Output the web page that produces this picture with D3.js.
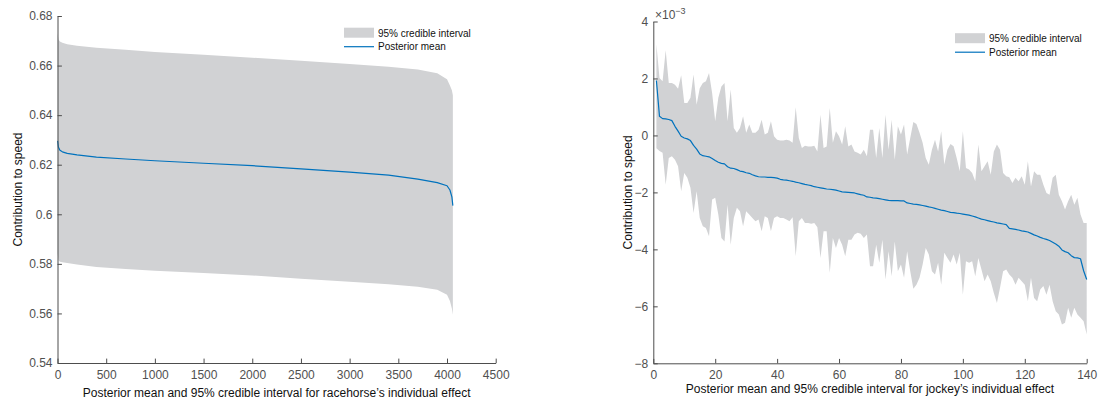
<!DOCTYPE html>
<html>
<head>
<meta charset="utf-8">
<script src="https://cdn.jsdelivr.net/npm/d3@7"></script>
<style>
  html, body { margin: 0; padding: 0; background: #fff; }
  svg { display: block; font-family: "Liberation Sans", Arial, Helvetica, sans-serif; }
</style>
</head>
<body>
<svg id="chart" width="1100" height="401"></svg>
<script>
const horseRank  = [1, 10, 25, 50, 100, 200, 400, 700, 1000, 1500, 2000, 2500, 3000, 3400, 3700, 3900, 4000, 4030, 4050, 4060];
const horseMean  = [0.6296, 0.6270, 0.6258, 0.6252, 0.6246, 0.6240, 0.6231, 0.6223, 0.6216, 0.6206, 0.6196, 0.6183, 0.6170, 0.6158, 0.6142, 0.6128, 0.6115, 0.6098, 0.6070, 0.6035];
const horseUpper = [0.6730, 0.6705, 0.6697, 0.6692, 0.6686, 0.6680, 0.6672, 0.6664, 0.6655, 0.6644, 0.6632, 0.6619, 0.6606, 0.6595, 0.6584, 0.6569, 0.6545, 0.6520, 0.6500, 0.6480];
const horseLower = [0.5843, 0.5815, 0.5809, 0.5806, 0.5803, 0.5797, 0.5787, 0.5779, 0.5772, 0.5763, 0.5753, 0.5740, 0.5728, 0.5718, 0.5708, 0.5696, 0.5675, 0.5650, 0.5620, 0.5595];
const horseXTicks = [0, 500, 1000, 1500, 2000, 2500, 3000, 3500, 4000, 4500];
const horseYTicks = [0.54, 0.56, 0.58, 0.60, 0.62, 0.64, 0.66, 0.68];
const horseYTickLabels = ["0.54", "0.56", "0.58", "0.6", "0.62", "0.64", "0.66", "0.68"];

// ---------- Right panel: jockeys, index 1..140, values in units of 1e-3 ----------
const jockeyMean = [
  1.93, 0.67, 0.59, 0.58, 0.56, 0.52, 0.32, 0.15, -0.03, -0.09,
  -0.12, -0.18, -0.35, -0.48, -0.65, -0.71, -0.73, -0.75, -0.81, -0.88,
  -0.94, -0.98, -1.00, -1.10, -1.15, -1.16, -1.20, -1.25, -1.27, -1.31,
  -1.33, -1.38, -1.42, -1.45, -1.46, -1.46, -1.47, -1.47, -1.48, -1.50,
  -1.54, -1.56, -1.57, -1.59, -1.61, -1.64, -1.66, -1.69, -1.72, -1.74,
  -1.76, -1.80, -1.82, -1.84, -1.86, -1.88, -1.89, -1.90, -1.92, -1.95,
  -1.98, -1.99, -2.00, -2.01, -2.02, -2.05, -2.08, -2.10, -2.16, -2.17,
  -2.19, -2.20, -2.22, -2.24, -2.26, -2.28, -2.29, -2.29, -2.29, -2.30,
  -2.30, -2.37, -2.39, -2.41, -2.42, -2.44, -2.46, -2.48, -2.51, -2.53,
  -2.56, -2.59, -2.62, -2.64, -2.67, -2.70, -2.71, -2.73, -2.74, -2.76,
  -2.78, -2.80, -2.83, -2.86, -2.90, -2.94, -2.96, -2.99, -3.02, -3.04,
  -3.07, -3.09, -3.11, -3.13, -3.26, -3.28, -3.30, -3.32, -3.35, -3.37,
  -3.39, -3.44, -3.49, -3.53, -3.58, -3.62, -3.65, -3.69, -3.75, -3.81,
  -3.89, -4.02, -4.08, -4.12, -4.22, -4.29, -4.30, -4.33, -4.75, -5.06
];
const jockeyUpper = [
  3.20, 2.02, 1.90, 2.99, 1.84, 1.84, 1.78, 1.64, 2.11, 1.14,
  1.14, 1.32, 2.14, 1.08, 1.66, 1.84, 1.90, 2.19, 1.49, 0.50,
  1.32, 1.72, 1.84, 0.50, 1.61, 0.26, 0.09, 0.26, 0.67, 0.09,
  0.38, 0.09, 0.09, 0.20, 0.55, 0.03, 0.09, 0.50, -0.03, -0.15,
  -0.18, -0.18, -0.15, -0.18, -0.26, 0.99, -0.09, -0.44, -0.36, -0.39,
  -0.39, -0.36, -0.56, 0.73, -0.44, -0.39, 0.96, -0.26, 0.15, -0.03,
  -0.32, 0.32, -0.39, -0.32, -0.56, -0.61, -0.67, -0.50, -0.73, 0.20,
  0.20, -0.79, 0.26, -0.79, 0.73, -0.50, 0.55, -0.85, 0.32, 0.03,
  0.38, -0.67, -0.09, 0.47, 0.40, 0.09, -0.26, -0.79, -1.03, -0.50,
  -0.15, -0.56, 0.15, -1.02, -0.50, -0.30, -0.38, -0.79, -1.26, 0.15,
  -1.14, -1.20, -1.32, -1.61, -0.32, -1.26, -1.08, -0.91, -1.38, -0.56,
  -0.32, -0.50, -1.32, -1.43, -1.47, -1.67, -1.49, -1.61, -1.43, -1.73,
  -0.91, -1.79, -1.26, -1.38, -1.38, -1.73, -2.02, -2.08, -1.49, -1.38,
  -2.08, -2.31, -2.60, -2.31, -2.08, -2.43, -2.19, -2.78, -3.07, -3.07
];
const jockeyLower = [
  -0.45, -0.55, -0.61, -1.73, -0.79, -0.73, -0.85, -1.08, -1.96, -1.32,
  -1.49, -1.84, -2.72, -1.96, -2.90, -3.19, -3.25, -3.54, -2.25, -2.19,
  -2.78, -3.60, -3.72, -2.43, -3.84, -2.90, -2.54, -2.66, -3.19, -2.66,
  -2.78, -2.90, -3.01, -2.95, -3.36, -2.84, -2.90, -3.36, -2.90, -2.84,
  -2.90, -2.90, -2.95, -3.01, -2.87, -4.24, -3.01, -2.90, -3.07, -3.07,
  -3.10, -3.07, -3.22, -4.30, -3.36, -3.36, -4.82, -3.60, -3.95, -3.60,
  -3.84, -4.24, -3.66, -3.66, -3.48, -3.42, -3.45, -3.60, -3.48, -4.59,
  -4.59, -3.84, -4.47, -3.66, -5.06, -4.07, -4.94, -3.72, -4.77, -4.53,
  -5.00, -4.07, -4.77, -5.38, -5.24, -5.00, -4.53, -3.95, -4.18, -4.77,
  -4.88, -4.47, -5.24, -4.12, -4.30, -4.47, -4.18, -4.53, -4.12, -5.59,
  -4.42, -4.47, -4.42, -4.94, -4.30, -4.71, -5.12, -4.88, -5.12, -5.53,
  -5.88, -5.35, -4.77, -4.71, -4.88, -5.00, -5.24, -5.00, -5.12, -5.24,
  -5.82, -5.00, -5.71, -5.82, -5.41, -5.29, -5.59, -5.24, -5.82, -6.17,
  -6.29, -6.64, -6.58, -6.05, -6.40, -6.05, -6.29, -6.40, -6.52, -6.99
];
const jockeyIndex = jockeyMean.map((_, i) => i + 1);
const jockeyXTicks = [0, 20, 40, 60, 80, 100, 120, 140];
const jockeyYTicks = [-8, -6, -4, -2, 0, 2, 4];
const jockeyYTickLabels = ["\u22128", "\u22126", "\u22124", "\u22122", "0", "2", "4"];

const legendLabels = ["95% credible interval", "Posterior mean"];
const yLabel = "Contribution to speed";
const xLabelHorse = "Posterior mean and 95% credible interval for racehorse\u2019s individual effect";
const xLabelJockey = "Posterior mean and 95% credible interval for jockey\u2019s individual effect";

// ---------- styles ----------
const BAND = "#d1d2d4";
const LINE = "#0072bd";
const AXIS = "#4d4d4d";
const TICKTXT = "#505050";

const svg = d3.select("#chart");

function drawPanel(cfg) {
  const x = d3.scaleLinear().domain(cfg.xDomain).range(cfg.xRange);
  const y = d3.scaleLinear().domain(cfg.yDomain).range(cfg.yRange);
  const g = svg.append("g");
  const data = cfg.xs.map((xv, i) => ({ x: xv, m: cfg.mean[i], lo: cfg.lower[i], hi: cfg.upper[i] }));

  g.append("path")
    .datum(data)
    .attr("fill", BAND)
    .attr("stroke", "none")
    .attr("d", d3.area().x(d => x(d.x)).y0(d => y(d.lo)).y1(d => y(d.hi)));

  g.append("path")
    .datum(data)
    .attr("fill", "none")
    .attr("stroke", LINE)
    .attr("stroke-width", 1.2)
    .attr("stroke-linejoin", "round")
    .attr("d", d3.line().x(d => x(d.x)).y(d => y(d.m)));

  // axes (inward ticks, MATLAB style)
  const xAxis = d3.axisBottom(x).tickValues(cfg.xTicks).tickFormat(d3.format("d"))
    .tickSizeInner(-4.4).tickSizeOuter(0).tickPadding(7);
  const yAxis = d3.axisLeft(y).tickValues(cfg.yTicks)
    .tickFormat((d, i) => cfg.yTickLabels[i])
    .tickSizeInner(-4.4).tickSizeOuter(0).tickPadding(5);

  const gx = g.append("g").attr("transform", `translate(0,${cfg.yRange[0]})`).call(xAxis);
  const gy = g.append("g").attr("transform", `translate(${cfg.xRange[0]},0)`).call(yAxis);
  [gx, gy].forEach(ax => {
    ax.select(".domain").attr("stroke", AXIS).attr("stroke-width", 1);
    ax.selectAll(".tick line").attr("stroke", AXIS).attr("stroke-width", 1);
    ax.selectAll(".tick text").attr("fill", TICKTXT).attr("font-size", 12)
      .attr("font-family", "'Liberation Sans', Arial, sans-serif");
  });

  // axis labels
  g.append("text")
    .attr("x", (cfg.xRange[0] + cfg.xRange[1]) / 2)
    .attr("y", cfg.xLabelY)
    .attr("text-anchor", "middle")
    .attr("font-size", 12)
    .attr("fill", "#111")
    .text(cfg.xLabel);
  g.append("text")
    .attr("transform", `translate(${cfg.yLabelX},${(cfg.yRange[0] + cfg.yRange[1]) / 2}) rotate(-90)`)
    .attr("text-anchor", "middle")
    .attr("font-size", 12)
    .attr("fill", "#111")
    .text(yLabel);

  // legend
  const L = cfg.legend;
  g.append("rect").attr("x", L.x).attr("y", L.y).attr("width", 30).attr("height", 10).attr("fill", BAND);
  g.append("text").attr("x", L.x + 34).attr("y", L.y + 9).attr("font-size", 10).attr("fill", "#111").text(legendLabels[0]);
  g.append("line").attr("x1", L.x).attr("x2", L.x + 30).attr("y1", L.y + 19).attr("y2", L.y + 19)
    .attr("stroke", LINE).attr("stroke-width", 1.2);
  g.append("text").attr("x", L.x + 34).attr("y", L.y + 22.6).attr("font-size", 10).attr("fill", "#111").text(legendLabels[1]);
  return g;
}

drawPanel({
  xs: horseRank, mean: horseMean, lower: horseLower, upper: horseUpper,
  xDomain: [0, 4500], xRange: [57.5, 495.7],
  yDomain: [0.54, 0.68], yRange: [363, 16],
  xTicks: horseXTicks, yTicks: horseYTicks, yTickLabels: horseYTickLabels,
  xLabel: xLabelHorse, xLabelY: 396.5, yLabelX: 22,
  legend: { x: 344, y: 27.7 }
});

const right = drawPanel({
  xs: jockeyIndex, mean: jockeyMean, lower: jockeyLower, upper: jockeyUpper,
  xDomain: [0, 140], xRange: [653.3, 1086.7],
  yDomain: [-8, 4], yRange: [363.3, 21.5],
  xTicks: jockeyXTicks, yTicks: jockeyYTicks, yTickLabels: jockeyYTickLabels,
  xLabel: xLabelJockey, xLabelY: 393.3, yLabelX: 632,
  legend: { x: 955, y: 33.2 }
});

// exponent label
const ex = right.append("text").attr("x", 655).attr("y", 18.5).attr("font-size", 12).attr("fill", TICKTXT);
ex.append("tspan").text("\u00d710");
ex.append("tspan").attr("font-size", 9).attr("dy", -5).text("\u22123");
</script>
</body>
</html>
